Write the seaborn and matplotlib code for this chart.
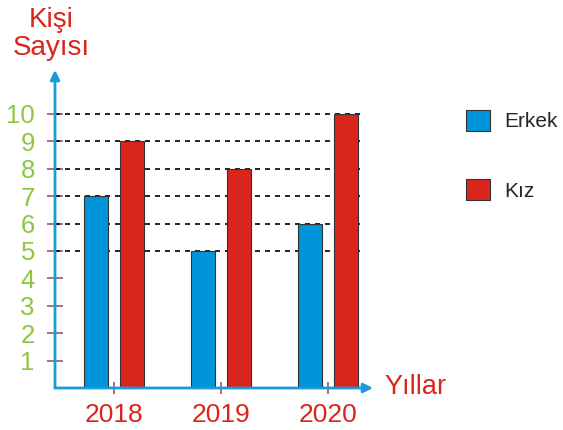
import numpy as np
import pandas as pd
import matplotlib
matplotlib.use("Agg")
import matplotlib.pyplot as plt
import seaborn as sns

# data
years = ["2018", "2019", "2020"]
erkek = [7, 5, 6]
kiz = [9, 8, 10]
y_ticks = list(range(1, 11))

BLUE = "#0095da"
RED = "#da251d"
GREEN = "#8dc63f"
AXIS = "#1a9ad6"
TICK = "#a0507a"

df = pd.DataFrame({
    "Yıl": years * 2,
    "Kişi": erkek + kiz,
    "Cinsiyet": ["Erkek"] * len(years) + ["Kız"] * len(years),
})

sns.set_style("white")
plt.rcParams["font.family"] = ["Liberation Sans", "DejaVu Sans"]

W, H = 563, 430
fig = plt.figure(figsize=(W / 100, H / 100), dpi=100)
# axes box: y axis at x=55, x axis at y=388, arrows end at x=373 / y=70
ax = fig.add_axes([55 / W, 1 - 388 / H, (373 - 55) / W, (388 - 70) / H])

sns.barplot(data=df, x="Yıl", y="Kişi", hue="Cinsiyet",
            palette=[BLUE, RED], saturation=1, width=0.66, gap=0.32,
            edgecolor="#333333", linewidth=0.8, ax=ax, zorder=3)

ax.set_xlim(-0.55, 2.42)
ax.set_ylim(0, 11.6)

# dashed guide lines at each bar height
for v in sorted(set(erkek + kiz)):
    ax.hlines(v, -0.55, 2.3, colors="black", linestyles=(0, (3, 3)),
              linewidth=1.2, zorder=1)

for s in ax.spines.values():
    s.set_visible(False)

# axis arrows
ax.annotate("", xy=(1, 0), xytext=(0, 0), xycoords="axes fraction",
            arrowprops=dict(arrowstyle="-|>", color=AXIS, lw=2,
                            mutation_scale=14, shrinkA=0, shrinkB=0))
ax.annotate("", xy=(0, 1), xytext=(0, 0), xycoords="axes fraction",
            arrowprops=dict(arrowstyle="-|>", color=AXIS, lw=2,
                            mutation_scale=14, shrinkA=0, shrinkB=0))

ax.set_yticks(y_ticks)
ax.set_yticklabels([str(t) for t in y_ticks], color=GREEN, fontsize=18.5)
ax.tick_params(axis="y", length=11, width=1.2, color=TICK, direction="inout",
               pad=9, left=True)
ax.tick_params(axis="x", length=9, width=1.2, color=TICK, direction="inout",
               pad=6, bottom=True, labelcolor=RED, labelsize=19)

ax.set_xlabel("")
ax.set_ylabel("")

fig.text(51 / W, 1 - 20 / H, "Kişi", color=RED, fontsize=20,
         ha="center", va="center")
fig.text(51 / W, 1 - 48 / H, "Sayısı", color=RED, fontsize=20,
         ha="center", va="center")
fig.text(384 / W, 1 - 387 / H, "Yıllar", color=RED, fontsize=19.5,
         ha="left", va="center")

handles, labels = ax.get_legend_handles_labels()
ax.legend(handles, labels, loc="upper left",
          bbox_to_anchor=(466 / W, 1 - 110 / H), bbox_transform=fig.transFigure,
          frameon=False, fontsize=15, handlelength=1.15, handleheight=1.15,
          handletextpad=0.7, labelspacing=2.3, borderpad=0, borderaxespad=0)

fig.savefig("out.png", dpi=100)
